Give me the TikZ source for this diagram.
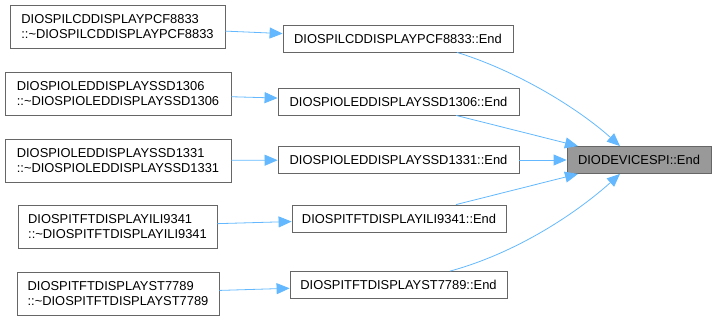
\documentclass[tikz,border=0pt]{standalone}
\usepackage{fontspec}
\setmainfont{Liberation Sans}
\usetikzlibrary{arrows.meta}

\definecolor{edgeblue}{HTML}{63B8FF}
\definecolor{boxline}{HTML}{666666}
\definecolor{rootfill}{HTML}{999999}

\begin{document}
\begin{tikzpicture}[x=1pt,y=-1pt,
        fn/.style={draw=boxline, line width=0.8pt, fill=white, inner sep=0pt, align=left,
                   minimum height=27pt, font=\fontsize{12.9}{15}\selectfont},
        dtor/.style={fn, minimum height=43pt},
        root/.style={fn, fill=rootfill},
        call/.style={draw=edgeblue, line width=0.8pt, -{Triangle[length=13pt,width=11pt]}}]

        \useasboundingbox (0,0) rectangle (716,320);

        % callee
        \node[root, minimum width=144pt] (devEnd) at (639,160) {DIODEVICESPI::End};

        % the End() callers
        \node[fn, minimum width=230pt] (pcfEnd) at (398,38.5) {DIOSPILCDDISPLAYPCF8833::End};
        \node[fn, minimum width=241pt] (ssd1306End) at (398.5,101.5) {DIOSPIOLEDDISPLAYSSD1306::End};
        \node[fn, minimum width=241pt] (ssd1331End) at (398.5,160) {DIOSPIOLEDDISPLAYSSD1331::End};
        \node[fn, minimum width=214pt] (iliEnd) at (399,218.5) {DIOSPITFTDISPLAYILI9341::End};
        \node[fn, minimum width=217pt] (stEnd) at (398.5,285) {DIOSPITFTDISPLAYST7789::End};

        % destructors
        \node[dtor, minimum width=215pt] (pcfDtor) at (117.5,26.5) {DIOSPILCDDISPLAYPCF8833\\::\textasciitilde DIOSPILCDDISPLAYPCF8833};
        \node[dtor, minimum width=226pt] (ssd1306Dtor) at (118,93.5) {DIOSPIOLEDDISPLAYSSD1306\\::\textasciitilde DIOSPIOLEDDISPLAYSSD1306};
        \node[dtor, minimum width=226pt] (ssd1331Dtor) at (118,160.5) {DIOSPIOLEDDISPLAYSSD1331\\::\textasciitilde DIOSPIOLEDDISPLAYSSD1331};
        \node[dtor, minimum width=199pt] (iliDtor) at (117.5,226.5) {DIOSPITFTDISPLAYILI9341\\::\textasciitilde DIOSPITFTDISPLAYILI9341};
        \node[dtor, minimum width=202pt] (stDtor) at (118,293.5) {DIOSPITFTDISPLAYST7789\\::\textasciitilde DIOSPITFTDISPLAYST7789};

        \draw[call] (pcfDtor) -- (pcfEnd);
        \draw[call] (ssd1306Dtor) -- (ssd1306End);
        \draw[call] (ssd1331Dtor) -- (ssd1331End);
        \draw[call] (iliDtor) -- (iliEnd);
        \draw[call] (stDtor) -- (stEnd);

        \draw[call] ([xshift=59pt]pcfEnd.south) .. controls (520,72) and (580,110) .. ([xshift=-19pt]devEnd.north);
        \draw[call] ([xshift=57.5pt]ssd1306End.south) -- ([xshift=-61pt]devEnd.north);
        \draw[call] (ssd1331End.east) -- (devEnd.west);
        \draw[call] ([xshift=57pt]iliEnd.north) -- ([xshift=-61pt]devEnd.south);
        \draw[call] ([xshift=51.5pt]stEnd.north) .. controls (520,252) and (580,210) .. ([xshift=-19pt]devEnd.south);

\end{tikzpicture}
\end{document}
